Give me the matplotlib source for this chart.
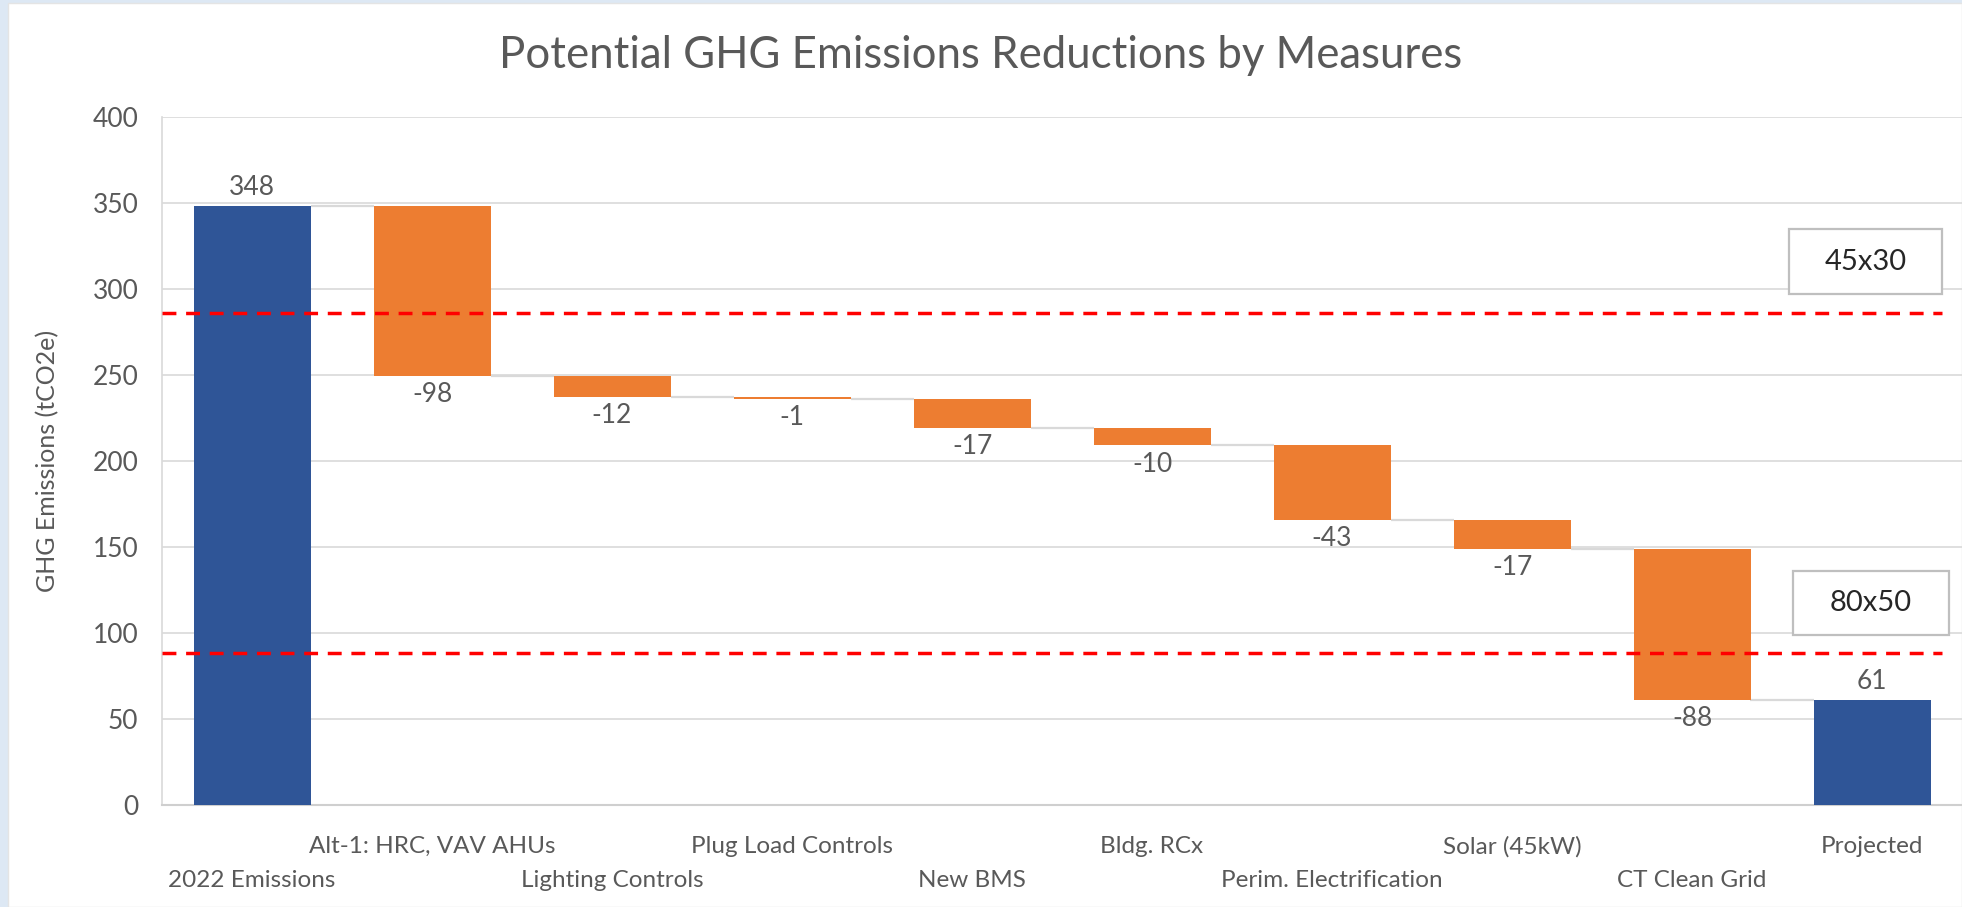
import matplotlib
matplotlib.use("Agg")
import matplotlib.pyplot as plt
from matplotlib.patches import Rectangle
import numpy as np

# ---------------- data ----------------
categories = ["2022 Emissions", "Alt-1: HRC, VAV AHUs", "Lighting Controls",
              "Plug Load Controls", "New BMS", "Bldg. RCx",
              "Perim. Electrification", "Solar (45kW)", "CT Clean Grid", "Projected"]
baseline_value = 348.0
reductions = [-98.3, -12.2, -1.2, -17.1, -10.1, -43.3, -16.8, -87.9]
projected_value = 61.1
target_values = [286, 88.5]
target_labels = ["45x30", "80x50"]
y_ticks = [0, 50, 100, 150, 200, 250, 300, 350, 400]

# ---------------- style ----------------
plt.rcParams['font.family'] = ['Lato', 'DejaVu Sans']
BLUE = "#2f5597"
ORANGE = "#ed7d31"
GREY_TXT = "#595959"
GRID = "#d9d9d9"

fig = plt.figure(figsize=(19.62, 9.07), dpi=100, facecolor="#dde8f4")
# white chart area
fig.patches.append(Rectangle((8 / 1962, 0), 1 - 8 / 1962, 1 - 3 / 907,
                             transform=fig.transFigure, facecolor="white",
                             edgecolor="#e4e4e4", linewidth=1.0, zorder=-5))

ax = fig.add_axes([162 / 1962, 102 / 907, 1800 / 1962, 688 / 907])
ax.set_facecolor("none")
ax.set_zorder(2)

n = len(categories)
x = np.arange(n)
width = 0.65

# waterfall geometry
bottoms, heights, colors, levels = [], [], [], []
running = baseline_value
bottoms.append(0); heights.append(baseline_value); colors.append(BLUE)
levels.append(running)
for d in reductions:
    bottoms.append(running + d); heights.append(-d); colors.append(ORANGE)
    running = running + d
    levels.append(running)
bottoms.append(0); heights.append(projected_value); colors.append(BLUE)

ax.bar(x, heights, bottom=bottoms, width=width, color=colors, zorder=3)

# connectors
for i in range(n - 1):
    ax.plot([x[i] + width / 2, x[i + 1] - width / 2], [levels[i], levels[i]],
            color=GRID, linewidth=1.6, zorder=2, solid_capstyle='butt')

# data labels
LBL = 19
ax.annotate(f"{baseline_value:.0f}", (x[0], baseline_value), xytext=(0, 4.5),
            textcoords="offset points", ha="center", va="bottom",
            fontsize=LBL, color=GREY_TXT, zorder=5)
for i, d in enumerate(reductions, start=1):
    ax.annotate(f"{round(d):d}", (x[i], bottoms[i]), xytext=(0, -4.5),
                textcoords="offset points", ha="center", va="top",
                fontsize=LBL, color=GREY_TXT, zorder=5)
ax.annotate(f"{projected_value:.0f}", (x[-1], projected_value), xytext=(0, 4.5),
            textcoords="offset points", ha="center", va="bottom",
            fontsize=LBL, color=GREY_TXT, zorder=5)

# target lines
for tv in target_values:
    ax.plot([-0.5, 9.39], [tv, tv], color="#ff0000", linewidth=2.5,
            linestyle=(0, (4.0, 2.8)), zorder=4)

# target boxes
box_specs = [(8.54, 297.0, 0.85, 37.8), (8.56, 98.8, 0.87, 37.2)]
for (bx, by, bw, bh), lab in zip(box_specs, target_labels):
    ax.add_patch(Rectangle((bx, by), bw, bh, facecolor="white",
                           edgecolor="#bfbfbf", linewidth=1.6, zorder=6))
    ax.text(bx + bw / 2, by + bh / 2, lab, ha="center", va="center",
            fontsize=21, color="#262626", zorder=7)

# axes
ax.set_xlim(-0.5, 9.5)
ax.set_ylim(0, 400)
ax.set_yticks(y_ticks)
ax.set_yticklabels([str(t) for t in y_ticks])
ax.tick_params(axis="y", length=0, pad=17, labelsize=19, labelcolor=GREY_TXT)
ax.set_xticks(x)
ax.set_xticklabels(categories)
ax.tick_params(axis="x", length=0, labelsize=17.5, labelcolor=GREY_TXT)
for i, tick in enumerate(ax.xaxis.get_major_ticks()):
    tick.set_pad(22.5 if i % 2 == 1 else 46.5)

ax.grid(axis="y", color=GRID, linewidth=1.2, zorder=0)
ax.set_axisbelow(True)
for s in ["top", "right"]:
    ax.spines[s].set_visible(False)
ax.spines["left"].set_color(GRID)
ax.spines["left"].set_linewidth(1.2)
ax.spines["bottom"].set_color("#cfcfcf")
ax.spines["bottom"].set_linewidth(1.5)

ax.set_ylabel("GHG Emissions (tCO2e)", fontsize=18, color=GREY_TXT)
ax.yaxis.set_label_coords(-0.057, 0.5)

fig.text(0.5, 1 - 56 / 907, "Potential GHG Emissions Reductions by Measures",
         ha="center", va="center", fontsize=31.5, color=GREY_TXT)

fig.savefig("out.png", dpi=100, facecolor=fig.get_facecolor())
